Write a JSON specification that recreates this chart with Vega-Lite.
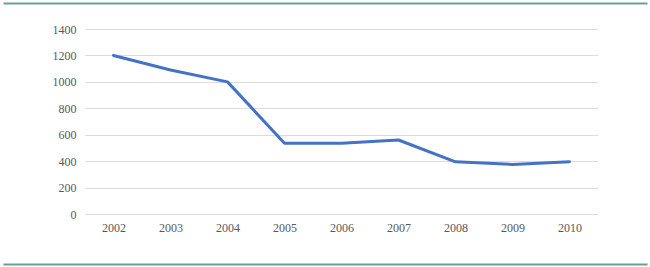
{
  "$schema": "https://vega.github.io/schema/vega-lite/v6.json",
  "autosize": "none",
  "width": 513,
  "height": 185,
  "padding": {"left": 85, "right": 52, "top": 29, "bottom": 53},
  "background": "white",
  "config": {
    "view": {"stroke": null},
    "font": "Liberation Serif"
  },
  "data": {
    "values": [
      {"year": "2002", "value": 1200},
      {"year": "2003", "value": 1090},
      {"year": "2004", "value": 1000},
      {"year": "2005", "value": 535},
      {"year": "2006", "value": 535},
      {"year": "2007", "value": 560},
      {"year": "2008", "value": 395},
      {"year": "2009", "value": 375},
      {"year": "2010", "value": 395}
    ]
  },
  "layer": [
    {
      "mark": {"type": "line", "color": "#4472C4", "strokeWidth": 3, "strokeCap": "round", "strokeJoin": "round"},
      "encoding": {
        "x": {
          "field": "year", "type": "ordinal",
          "scale": {"type": "point", "padding": 0.5},
          "axis": {"title": null, "domain": false, "ticks": false, "labelAngle": 0, "labelFontSize": 12, "labelColor": "#595959", "labelPadding": 8, "grid": false}
        },
        "y": {
          "field": "value", "type": "quantitative",
          "scale": {"domain": [0, 1400]},
          "axis": {"title": null, "domain": false, "ticks": false, "format": "d", "values": [0, 200, 400, 600, 800, 1000, 1200, 1400], "labelPadding": 9, "labelFontSize": 12, "labelColor": "#595959", "gridColor": "#dcdcdc", "gridWidth": 1}
        }
      }
    },
    {
      "mark": {"type": "point", "opacity": 0},
      "encoding": {
        "x": {
          "datum": 0, "type": "quantitative",
          "scale": {"domain": [0, 1], "range": [-82, 562]},
          "axis": {"orient": "top", "title": null, "labels": false, "ticks": false, "grid": false, "domain": true, "domainColor": "#6a9f95", "domainWidth": 2, "offset": 26}
        }
      }
    },
    {
      "mark": {"type": "point", "opacity": 0},
      "encoding": {
        "x": {
          "datum": 0, "type": "quantitative",
          "scale": {"domain": [0, 1], "range": [-82, 562]},
          "axis": {"orient": "bottom", "title": null, "labels": false, "ticks": false, "grid": false, "domain": true, "domainColor": "#6a9f95", "domainWidth": 2, "offset": 50}
        }
      }
    }
  ],
  "resolve": {"scale": {"x": "independent"}, "axis": {"x": "independent"}}
}
